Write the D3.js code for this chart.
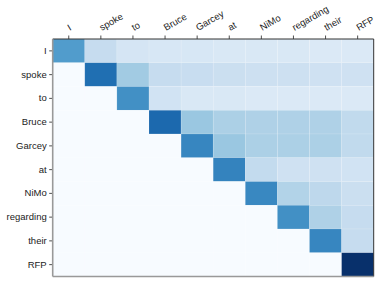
<!DOCTYPE html>
<html>
<head>
<meta charset="utf-8">
<script src="https://cdn.jsdelivr.net/npm/d3@7"></script>
<style>
  html, body { margin: 0; padding: 0; background: #fff; }
  svg { display: block; font-family: "DejaVu Sans", sans-serif; }
</style>
</head>
<body>
<svg id="chart"></svg>
<script>
// tokens on both axes
const tokens = ['I', 'spoke', 'to', 'Bruce', 'Garcey', 'at', 'NiMo', 'regarding', 'their', 'RFP'];

// attention weights, one array per row (query token)
const rowI         = [0.58, 0.24, 0.17, 0.16, 0.16, 0.15, 0.15, 0.15, 0.14, 0.14];
const rowSpoke     = [0, 0.76, 0.36, 0.24, 0.23, 0.22, 0.21, 0.21, 0.20, 0.20];
const rowTo        = [0, 0, 0.63, 0.19, 0.15, 0.15, 0.14, 0.14, 0.14, 0.14];
const rowBruce     = [0, 0, 0, 0.78, 0.38, 0.33, 0.32, 0.32, 0.32, 0.26];
const rowGarcey    = [0, 0, 0, 0, 0.67, 0.38, 0.33, 0.33, 0.33, 0.26];
const rowAt        = [0, 0, 0, 0, 0, 0.68, 0.25, 0.20, 0.20, 0.19];
const rowNiMo      = [0, 0, 0, 0, 0, 0, 0.66, 0.31, 0.27, 0.22];
const rowRegarding = [0, 0, 0, 0, 0, 0, 0, 0.63, 0.32, 0.24];
const rowTheir     = [0, 0, 0, 0, 0, 0, 0, 0, 0.67, 0.24];
const rowRFP       = [0, 0, 0, 0, 0, 0, 0, 0, 0, 1.0];

const rows = [rowI, rowSpoke, rowTo, rowBruce, rowGarcey, rowAt, rowNiMo, rowRegarding, rowTheir, rowRFP];

const W = 383, H = 286;
const margin = { top: 39, right: 9.3, bottom: 9.5, left: 52.7 };
const width = W - margin.left - margin.right;
const height = H - margin.top - margin.bottom;

const svg = d3.select('#chart')
  .attr('width', W)
  .attr('height', H);

const g = svg.append('g')
  .attr('transform', `translate(${margin.left},${margin.top})`);

const x = d3.scaleBand().domain(tokens).range([0, width]).padding(0);
const y = d3.scaleBand().domain(tokens).range([0, height]).padding(0);
const color = d3.scaleSequential(d3.interpolateBlues).domain([0, 1]);

// flatten into cells
const cells = [];
rows.forEach((row, i) => {
  row.forEach((v, j) => cells.push({ row: tokens[i], col: tokens[j], value: v }));
});

g.selectAll('rect.cell')
  .data(cells)
  .join('rect')
  .attr('class', 'cell')
  .attr('x', d => x(d.col))
  .attr('y', d => y(d.row))
  .attr('width', x.bandwidth())
  .attr('height', y.bandwidth())
  .attr('fill', d => color(d.value))
  .attr('stroke', 'rgba(255,255,255,0.2)')
  .attr('stroke-width', 0.6);

// top axis
const xAxis = g.append('g')
  .call(d3.axisTop(x).tickSize(3.5).tickPadding(3));
xAxis.select('.domain').remove();
xAxis.selectAll('line').attr('stroke', '#222').attr('stroke-width', 0.8);
xAxis.selectAll('text')
  .attr('text-anchor', 'start')
  .attr('transform', 'translate(1,-8) rotate(-30)')
  .attr('x', 0)
  .attr('y', 0)
  .attr('dy', 0)
  .style('font-size', '9.5px')
  .style('fill', '#222');

// left axis
const yAxis = g.append('g')
  .call(d3.axisLeft(y).tickSize(3.5).tickPadding(2.5));
yAxis.select('.domain').remove();
yAxis.selectAll('line').attr('stroke', '#222').attr('stroke-width', 0.8);
yAxis.selectAll('text')
  .style('font-size', '9.5px')
  .style('fill', '#222');

// spines
g.append('line').attr('x1', 0).attr('x2', width).attr('y1', 0).attr('y2', 0)
  .attr('stroke', '#333').attr('stroke-width', 1);
g.append('line').attr('x1', width).attr('x2', width).attr('y1', 0).attr('y2', height)
  .attr('stroke', '#333').attr('stroke-width', 1);
g.append('line').attr('x1', 0).attr('x2', 0).attr('y1', 0).attr('y2', height)
  .attr('stroke', '#999').attr('stroke-width', 1.6);
g.append('line').attr('x1', 0).attr('x2', width).attr('y1', height).attr('y2', height)
  .attr('stroke', '#999').attr('stroke-width', 1.6);
</script>
</body>
</html>
